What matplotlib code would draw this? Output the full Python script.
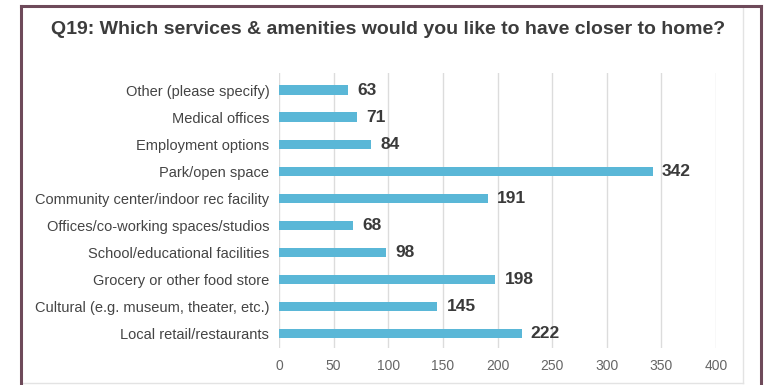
import matplotlib.pyplot as plt
from matplotlib.lines import Line2D

# survey responses, top to bottom as listed in the chart
categories = [
    "Other (please specify)",
    "Medical offices",
    "Employment options",
    "Park/open space",
    "Community center/indoor rec facility",
    "Offices/co-working spaces/studios",
    "School/educational facilities",
    "Grocery or other food store",
    "Cultural (e.g. museum, theater, etc.)",
    "Local retail/restaurants",
]
counts = [63, 71, 84, 342, 191, 68, 98, 198, 145, 222]
x_ticks = [0, 50, 100, 150, 200, 250, 300, 350, 400]

title = "Q19: Which services & amenities would you like to have closer to home?"

plt.rcParams['font.family'] = ['Liberation Sans', 'DejaVu Sans']

W, H = 764, 385
fig = plt.figure(figsize=(W / 100, H / 100), dpi=100)

# axes placed in pixel terms
ax_l, ax_r, ax_t, ax_b = 279, 716, 73, 348
ax = fig.add_axes([ax_l / W, 1 - ax_b / H, (ax_r - ax_l) / W, (ax_b - ax_t) / H])

# first category at the top
ypos = list(range(len(categories)))[::-1]
ax.barh(ypos, counts, height=0.34, color='#5ab7d7', zorder=2)

for y, v in zip(ypos, counts):
    ax.text(v + 8.5, y, str(v), va='center', ha='left', fontsize=12.5,
            fontweight='bold', color='#3a3a3a')

ax.set_xlim(0, 400)
ax.set_ylim(-0.54, 9.63)
ax.set_xticks(x_ticks)
ax.set_yticks(ypos)
ax.set_yticklabels(categories)
ax.tick_params(axis='x', length=0, pad=8, labelsize=10, labelcolor='#666666')
ax.tick_params(axis='y', length=0, pad=7, labelsize=10.5, labelcolor='#444444')
ax.grid(axis='x', color='#dcdcdc', linewidth=1, zorder=0)
for s in ax.spines.values():
    s.set_visible(False)

fig.text(388 / W, 1 - 29 / H, title, ha='center', va='center', fontsize=14,
         fontweight='bold', color='#3c3c3c')


def px_line(x0, y0, x1, y1, color, lw):
    fig.add_artist(Line2D([x0 / W, x1 / W], [1 - y0 / H, 1 - y1 / H],
                          color=color, linewidth=lw, transform=fig.transFigure,
                          solid_capstyle='projecting'))


# light panel edges
px_line(743, 7, 743, 383, '#e3e3e3', 1)
px_line(21, 383, 743, 383, '#e3e3e3', 1)
# outer frame
px_line(20.5, 6, 20.5, 385, '#6e4a5a', 2.2)
px_line(20.5, 6, 761, 6, '#6e4a5a', 2.2)
px_line(761, 6, 761, 385, '#6e4a5a', 2.2)

fig.savefig('out.png', dpi=100)
